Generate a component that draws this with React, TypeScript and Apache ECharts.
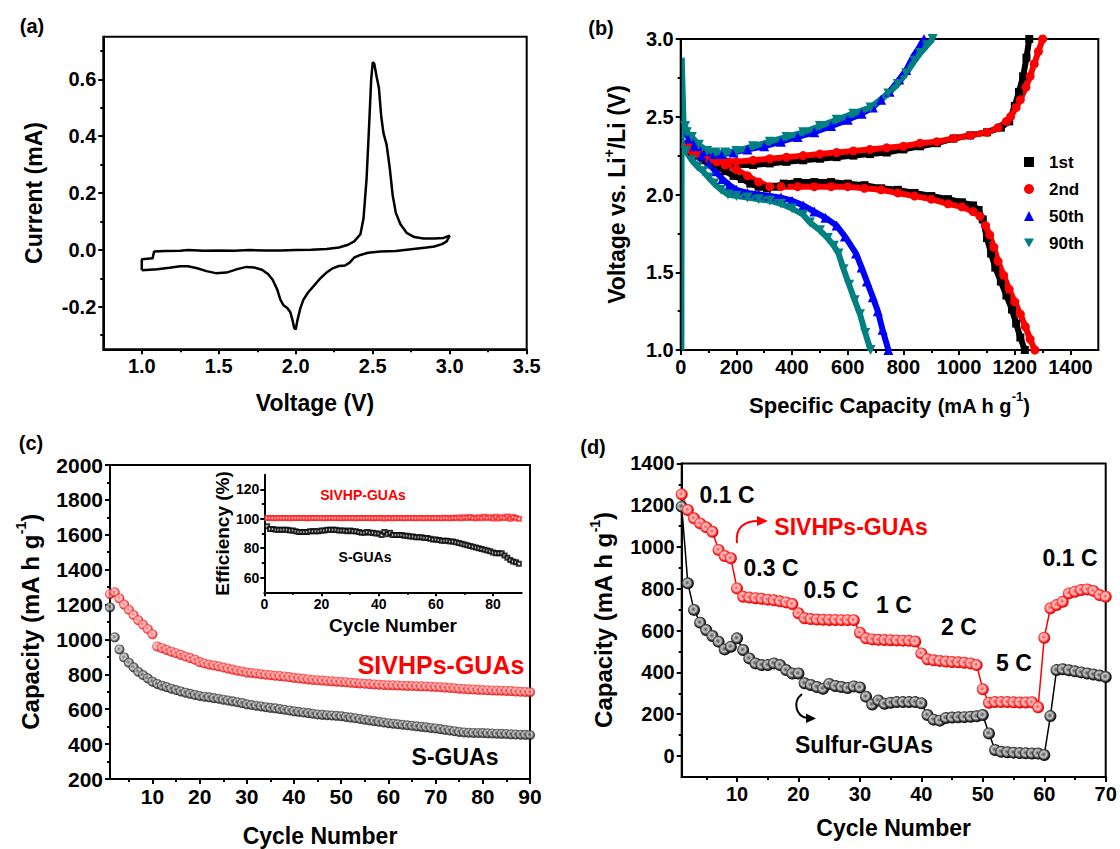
import React, { useEffect, useRef } from "react";
import * as echarts from "echarts";

const FONT = '"Liberation Sans", Arial, Helvetica, sans-serif';

// ---------- Panel (a): cyclic voltammetry ----------
const cvVoltage = [
  1.0, 1.0, 1.07, 1.08, 1.15, 1.25, 1.3, 1.4, 1.5, 1.6, 1.7, 1.8, 1.9, 2.0, 2.1, 2.2, 2.28, 2.34, 2.38, 2.42, 2.44, 2.46,
  2.475, 2.49, 2.5, 2.51, 2.525, 2.54, 2.555, 2.57, 2.59, 2.61, 2.63, 2.65, 2.68, 2.72, 2.77, 2.83, 2.9, 2.96, 3.0,
  2.98, 2.95, 2.9, 2.85, 2.75, 2.65, 2.55, 2.47, 2.42, 2.38, 2.35, 2.32, 2.28, 2.24, 2.2, 2.16, 2.12, 2.08, 2.05, 2.03,
  2.01, 2.0, 1.99, 1.98, 1.965, 1.945, 1.92, 1.9, 1.88, 1.85, 1.82, 1.78, 1.73, 1.68, 1.62, 1.55, 1.48, 1.42, 1.36, 1.3,
  1.25, 1.18, 1.1, 1.0,
];
const cvCurrent = [
  -0.072, -0.033, -0.03, -0.006, -0.004, -0.003, -0.001, -0.003, -0.002, -0.003, -0.001, -0.002, -0.002, -0.001, 0.0,
  0.003, 0.008, 0.018, 0.03, 0.055, 0.11, 0.25, 0.42, 0.6, 0.66, 0.655, 0.61, 0.57, 0.47, 0.41, 0.37, 0.29, 0.19, 0.13,
  0.09, 0.06, 0.045, 0.04, 0.04, 0.042, 0.05,
  0.03, 0.02, 0.012, 0.008, 0.002, -0.004, -0.006, -0.01, -0.018, -0.027, -0.045, -0.055, -0.057, -0.065, -0.08, -0.1,
  -0.125, -0.15, -0.175, -0.205, -0.25, -0.28, -0.275, -0.25, -0.22, -0.205, -0.195, -0.175, -0.14, -0.105, -0.085,
  -0.07, -0.062, -0.06, -0.068, -0.08, -0.082, -0.075, -0.065, -0.058, -0.058, -0.063, -0.068, -0.072,
];

// ---------- Panel (b): charge / discharge profiles [capacity, voltage] ----------
const b1Discharge = [
  [18, 2.3], [40, 2.27], [60, 2.25], [80, 2.22], [100, 2.2], [130, 2.18], [160, 2.15], [190, 2.12], [220, 2.1],
  [250, 2.07], [280, 2.05], [310, 2.04], [340, 2.05], [370, 2.07], [420, 2.08], [480, 2.08], [540, 2.08], [600, 2.07],
  [660, 2.06], [720, 2.04], [780, 2.03], [840, 2.01], [900, 1.99], [960, 1.97], [1010, 1.95], [1050, 1.93],
  [1070, 1.9], [1085, 1.84], [1100, 1.72], [1115, 1.62], [1130, 1.53], [1150, 1.44], [1170, 1.35], [1190, 1.26],
  [1205, 1.17], [1220, 1.08], [1236, 1.0],
];
const b1Charge = [
  [25, 2.3], [50, 2.26], [80, 2.23], [110, 2.21], [150, 2.19], [200, 2.19], [260, 2.19], [320, 2.2], [380, 2.21],
  [440, 2.22], [500, 2.23], [560, 2.24], [620, 2.25], [680, 2.26], [740, 2.27], [800, 2.29], [860, 2.31], [920, 2.33],
  [980, 2.36], [1040, 2.38], [1100, 2.4], [1150, 2.43], [1180, 2.47], [1200, 2.57], [1215, 2.66], [1230, 2.76],
  [1242, 2.88], [1252, 3.0],
];
const b2Discharge = [
  [18, 2.32], [40, 2.28], [70, 2.25], [100, 2.23], [130, 2.21], [160, 2.19], [200, 2.16], [240, 2.12], [280, 2.08],
  [320, 2.05], [360, 2.05], [420, 2.05], [480, 2.05], [540, 2.05], [600, 2.05], [660, 2.04], [720, 2.03], [780, 2.01],
  [840, 1.99], [900, 1.97], [960, 1.94], [1010, 1.92], [1050, 1.89], [1075, 1.86], [1095, 1.8], [1110, 1.74],
  [1125, 1.66], [1140, 1.57], [1160, 1.48], [1180, 1.39], [1200, 1.31], [1220, 1.23], [1238, 1.15], [1255, 1.07],
  [1272, 1.0],
];
const b2Charge = [
  [25, 2.33], [50, 2.28], [80, 2.25], [110, 2.23], [150, 2.22], [200, 2.21], [260, 2.22], [320, 2.23], [380, 2.24],
  [440, 2.25], [500, 2.26], [560, 2.27], [620, 2.28], [680, 2.29], [740, 2.3], [800, 2.31], [860, 2.33], [920, 2.34],
  [980, 2.36], [1040, 2.38], [1100, 2.4], [1140, 2.43], [1170, 2.47], [1185, 2.5], [1205, 2.56], [1220, 2.61],
  [1240, 2.69], [1255, 2.76], [1270, 2.84], [1285, 2.92], [1300, 3.0],
];
const b50Discharge = [
  [18, 2.4], [30, 2.36], [50, 2.31], [75, 2.25], [100, 2.2], [125, 2.15], [150, 2.1], [175, 2.06], [200, 2.03],
  [240, 2.01], [280, 2.0], [320, 1.99], [360, 1.98], [400, 1.96], [440, 1.93], [480, 1.89], [520, 1.85], [560, 1.8],
  [590, 1.73], [630, 1.62], [650, 1.53], [669, 1.44], [690, 1.34], [708, 1.25], [725, 1.13], [746, 1.0],
];
const b50Charge = [
  [18, 2.4], [35, 2.37], [60, 2.32], [90, 2.28], [120, 2.26], [150, 2.26], [190, 2.27], [240, 2.29], [300, 2.31],
  [360, 2.34], [420, 2.37], [480, 2.4], [540, 2.44], [600, 2.48], [650, 2.52], [690, 2.56], [720, 2.61], [750, 2.66],
  [785, 2.74], [810, 2.8], [836, 2.89], [858, 2.95], [874, 3.0],
];
const b90Discharge = [
  [18, 2.28], [40, 2.22], [60, 2.18], [80, 2.15], [100, 2.11], [120, 2.07], [145, 2.03], [170, 2.0], [200, 1.99],
  [240, 1.98], [280, 1.97], [320, 1.96], [360, 1.94], [400, 1.91], [440, 1.87], [464, 1.82], [500, 1.77],
  [528, 1.72], [550, 1.67], [567, 1.62], [585, 1.52], [605, 1.42], [625, 1.32], [644, 1.23], [663, 1.11], [682, 1.0],
];
const b90Spike = [[8, 1.0], [9, 2.88], [16, 2.44]];
const b90Charge = [
  [16, 2.44], [22, 2.4], [40, 2.37], [65, 2.32], [95, 2.28], [125, 2.27], [160, 2.27],
  [200, 2.28], [260, 2.31], [320, 2.34], [380, 2.37], [440, 2.4], [500, 2.44], [560, 2.48], [620, 2.52], [682, 2.56],
  [746, 2.65], [780, 2.71], [810, 2.78], [840, 2.86], [861, 2.91], [885, 2.96], [905, 3.0],
];
const bLegendNames = ["1st", "2nd", "50th", "90th"];

// ---------- Panel (c): cycling at constant rate ----------
const cSivhp = [
  1260, 1270, 1235, 1200, 1170, 1140, 1110, 1085, 1060, 1030,
  960, 950, 940, 930, 921, 912, 902, 893, 884, 870,
  862, 856, 851, 846, 839, 833, 827, 821, 816, 810,
  808, 805, 801, 798, 795, 792, 790, 787, 784, 780,
  777, 774, 771, 768, 766, 764, 762, 760, 758, 756,
  754, 752, 750, 748, 746, 744, 742, 741, 739, 738,
  737, 736, 735, 734, 733, 732, 731, 730, 729, 728,
  726, 724, 722, 720, 718, 716, 714, 713, 711, 710,
  709, 708, 707, 706, 705, 704, 702, 700, 699, 698,
];
const cSgua = [
  1184, 1012, 943, 897, 867, 840, 815, 796, 777, 758,
  745, 735, 727, 718, 710, 702, 695, 688, 682, 676,
  672, 668, 664, 660, 655, 650, 645, 640, 635, 628,
  624, 620, 616, 612, 608, 605, 601, 597, 593, 588,
  585, 581, 578, 574, 570, 568, 566, 564, 562, 560,
  556, 552, 548, 544, 540, 536, 532, 528, 524, 520,
  517, 514, 511, 508, 505, 502, 499, 496, 493, 490,
  486, 482, 478, 474, 470, 467, 465, 464, 464, 463,
  462, 461, 460, 459, 458, 456, 455, 454, 453, 452,
];
// inset: coulombic efficiency (%)
const effSivhp = [
  100.5, 100.6, 100.5, 100.4, 100.5, 100.6, 100.5, 100.5, 100.4, 100.5,
  100.5, 100.6, 100.5, 100.5, 100.4, 100.5, 100.5, 100.6, 100.5, 100.5,
  100.4, 100.5, 100.6, 100.5, 100.5, 100.5, 100.4, 100.5, 100.6, 100.5,
  100.5, 100.4, 100.5, 100.5, 100.6, 100.5, 100.5, 100.4, 100.5, 100.5,
  100.6, 100.2, 100.5, 100.5, 100.3, 100.5, 100.6, 100.5, 100.4, 100.5,
  100.6, 100.5, 100.4, 100.6, 100.5, 100.4, 100.6, 100.5, 100.4, 100.6,
  100.5, 100.4, 100.7, 100.5, 100.4, 100.7, 100.5, 100.8, 100.4, 101.0,
  100.5, 101.2, 100.6, 100.4, 101.0, 100.3, 101.4, 100.6, 101.0, 100.2,
  101.4, 100.2, 101.0, 100.5, 101.5, 100.1, 101.2, 100.6, 100.0,
];
const effSgua = [
  95, 93, 93, 92.5, 92.5, 92.5, 92.5, 92.5, 92, 92,
  91.5, 91, 91, 91, 91, 91.5, 91.5, 91.5, 91.5, 92,
  92, 92.5, 92.5, 92.5, 92.5, 92, 92, 92, 91.5, 92,
  91.5, 91.5, 91, 90.5, 90.5, 91, 90.5, 90.5, 90, 90,
  89, 91, 89.5, 90.5, 89, 89, 89, 89, 88.5, 88.5,
  88, 88, 87.5, 87.5, 87.5, 87, 87, 86.5, 86, 86,
  85.5, 85, 85, 85, 84.5, 84.5, 84, 83.5, 83, 82.5,
  82, 81.5, 81, 80.5, 80, 79.5, 79, 78.5, 78, 77,
  76.5, 76.5, 76.5, 75, 73.5, 72, 71, 70.5, 69.5,
];

// ---------- Panel (d): rate capability ----------
const dSivhp = [
  1252, 1177, 1137, 1113, 1094, 1073, 986, 957, 946, 802,
  762, 758, 755, 752, 748, 745, 740, 735, 727, 683,
  659, 655, 653, 652, 651, 651, 650, 650, 650, 590,
  563, 558, 556, 555, 554, 553, 552, 551, 548, 491,
  463, 458, 455, 452, 450, 448, 446, 443, 435, 319,
  255, 258, 258, 258, 257, 256, 256, 257, 233, 566,
  707, 722, 738, 778, 786, 794, 797, 790, 770, 762,
];
const dSulfur = [
  1193, 826, 699, 638, 603, 574, 547, 510, 523, 563,
  507, 467, 443, 435, 435, 443, 435, 411, 395, 395,
  348, 340, 330, 322, 345, 335, 330, 325, 333, 328,
  284, 246, 266, 250, 255, 258, 258, 258, 258, 252,
  196, 174, 169, 182, 184, 185, 186, 188, 190, 196,
  108, 29, 20, 18, 16, 14, 13, 12, 12, 5,
  191, 411, 415, 410, 405, 400, 395, 390, 385, 378,
];

// ---------- tick values ----------
const aXTicks = [1.0, 1.5, 2.0, 2.5, 3.0, 3.5];
const aXMinor = [1.25, 1.75, 2.25, 2.75, 3.25];
const aYTicks = [-0.2, 0.0, 0.2, 0.4, 0.6];
const aYMinor = [-0.3, -0.1, 0.1, 0.3, 0.5, 0.7];
const bXTicks = [0, 200, 400, 600, 800, 1000, 1200, 1400];
const bXMinor = [100, 300, 500, 700, 900, 1100, 1300];
const bYTicks = [1.0, 1.5, 2.0, 2.5, 3.0];
const bYMinor = [1.25, 1.75, 2.25, 2.75];
const cXTicks = [10, 20, 30, 40, 50, 60, 70, 80, 90];
const cXMinor = [5, 15, 25, 35, 45, 55, 65, 75, 85];
const cYTicks = [200, 400, 600, 800, 1000, 1200, 1400, 1600, 1800, 2000];
const cYMinor = [300, 500, 700, 900, 1100, 1300, 1500, 1700, 1900];
const dXTicks = [10, 20, 30, 40, 50, 60, 70];
const dXMinor = [5, 15, 25, 35, 45, 55, 65];
const dYTicks = [0, 200, 400, 600, 800, 1000, 1200, 1400];
const dYMinor = [100, 300, 500, 700, 900, 1100, 1300];
const iXTicks = [0, 20, 40, 60, 80];
const iXMinor = [10, 30, 50, 70];
const iYTicks = [60, 80, 100, 120];
const iYMinor = [70, 90, 110];

const cycles = (n: number) => Array.from({ length: n }, (_, i) => i + 1);

function axes(o: any) {
  const pos = o.kind === "x" ? "bottom" : "left";
  const lw = o.lw ?? 2;
  const main: any = {
    type: "value",
    gridIndex: o.grid,
    min: o.min,
    max: o.max,
    position: pos,
    axisLine: { show: true, onZero: false, lineStyle: { color: "#000", width: lw } },
    axisTick: { show: true, inside: false, length: o.tickLen ?? 5, lineStyle: { color: "#000", width: lw }, customValues: o.ticks },
    axisLabel: {
      show: true,
      customValues: o.ticks,
      margin: o.margin ?? 7,
      color: "#000",
      fontFamily: FONT,
      fontWeight: "bold",
      fontSize: o.labelSize,
      formatter: (v: number) => (o.digits != null ? Number(v).toFixed(o.digits) : String(Math.round(v))),
    },
    splitLine: { show: false },
    minorTick: { show: false },
    name: o.name,
    nameLocation: "middle",
    nameGap: o.nameGap,
    nameTextStyle: { color: "#000", fontFamily: FONT, fontWeight: "bold", fontSize: o.nameSize ?? 23, rich: o.rich },
  };
  const minor: any = {
    type: "value",
    gridIndex: o.grid,
    min: o.min,
    max: o.max,
    position: pos,
    axisLine: { show: false, onZero: false },
    axisTick: { show: true, inside: false, length: o.minorLen ?? 3, lineStyle: { color: "#000", width: lw }, customValues: o.minor },
    axisLabel: { show: false },
    splitLine: { show: false },
  };
  return [main, minor];
}

function sup(size: number, supSize: number) {
  return {
    t: { fontFamily: FONT, fontWeight: "bold", fontSize: size, color: "#000", lineHeight: size + 4, verticalAlign: "bottom" },
    s: { fontFamily: FONT, fontWeight: "bold", fontSize: size - 2, color: "#000", lineHeight: size + 4, verticalAlign: "bottom" },
    u: { fontFamily: FONT, fontWeight: "bold", fontSize: supSize, color: "#000", lineHeight: supSize + 2, verticalAlign: "top" },
  };
}

function ringBall(light: string, mid: string, main: string, dark: string) {
  return {
    type: "radial",
    x: 0.45,
    y: 0.45,
    r: 0.55,
    colorStops: [
      { offset: 0, color: light },
      { offset: 0.45, color: mid },
      { offset: 0.78, color: main },
      { offset: 1, color: dark },
    ],
  };
}

function txt(x: number, y: number, text: string, size: number, color = "#000") {
  return {
    type: "text",
    x,
    y,
    z: 100,
    style: {
      text,
      fill: color,
      font: `bold ${size}px ${FONT}`,
      textAlign: "center",
      textVerticalAlign: "middle",
      align: "center",
      verticalAlign: "middle",
    },
  };
}

export default function App() {
  const ref = useRef<HTMLDivElement>(null);
  useEffect(() => {
    if (!ref.current) return;
    const chart = echarts.init(ref.current, null, { renderer: "svg" });

    const grids = [
      { left: 103.3, top: 36.7, width: 423.4, height: 312.6 },
      { left: 680.7, top: 39, width: 417.6, height: 311 },
      { left: 110, top: 465, width: 420, height: 314 },
      { left: 681.7, top: 463.4, width: 424, height: 313.5 },
      { left: 264.3, top: 474.7, width: 257.4, height: 117.6 },
    ].map((g, i) => ({
      ...g,
      show: i < 4,
      borderColor: "#000",
      borderWidth: 2,
      backgroundColor: "transparent",
      containLabel: false,
      outerBoundsMode: "none",
    }));

    const xAxes = [
      ...axes({ kind: "x", grid: 0, min: 0.75, max: 3.5, ticks: aXTicks, minor: aXMinor, digits: 1, labelSize: 20, name: "Voltage (V)", nameGap: 42 }),
      ...axes({ kind: "x", grid: 1, min: 0, max: 1500, ticks: bXTicks, minor: bXMinor, labelSize: 20, name: "{t|Specific Capacity }{s|(mA h g}{u|-1}{s|)}", nameGap: 40, rich: sup(22, 13) }),
      ...axes({ kind: "x", grid: 2, min: 1, max: 90, ticks: cXTicks, minor: cXMinor, labelSize: 21, name: "Cycle Number", nameGap: 45 }),
      ...axes({ kind: "x", grid: 3, min: 1, max: 70, ticks: dXTicks, minor: dXMinor, labelSize: 20, name: "Cycle Number", nameGap: 40 }),
      ...axes({ kind: "x", grid: 4, min: 0, max: 90, ticks: iXTicks, minor: iXMinor, labelSize: 14, name: "Cycle Number", nameGap: 24, nameSize: 19, tickLen: 4, minorLen: 2.5, margin: 5 }),
    ];
    const yAxes = [
      ...axes({ kind: "y", grid: 0, min: -0.35, max: 0.75, ticks: aYTicks, minor: aYMinor, digits: 1, labelSize: 20, name: "Current (mA)", nameGap: 58 }),
      ...axes({ kind: "y", grid: 1, min: 1.0, max: 3.0, ticks: bYTicks, minor: bYMinor, digits: 1, labelSize: 20, name: "{t|Voltage vs. Li}{u|+}{t|/Li (V)}", nameGap: 52, rich: sup(23, 14) }),
      ...axes({ kind: "y", grid: 2, min: 200, max: 2000, ticks: cYTicks, minor: cYMinor, labelSize: 21, name: "{t|Capacity (mA h g}{u|-1}{t|)}", nameGap: 68, rich: sup(24, 14) }),
      ...axes({ kind: "y", grid: 3, min: -100, max: 1400, ticks: dYTicks, minor: dYMinor, labelSize: 20, name: "{t|Capacity (mA h g}{u|-1}{t|)}", nameGap: 66, rich: sup(24, 14) }),
      ...axes({ kind: "y", grid: 4, min: 50, max: 130, ticks: iYTicks, minor: iYMinor, labelSize: 14, name: "Efficiency (%)", nameGap: 32, nameSize: 19, tickLen: 4, minorLen: 2.5, margin: 5 }),
    ];

    const invTri = "path://M0,0L10,0L5,9Z";
    const bStyle = [
      { name: "1st", color: "#000000", symbol: "rect", size: 8, data: [b1Discharge, b1Charge] },
      { name: "2nd", color: "#ff0000", symbol: "circle", size: 9, data: [b2Discharge, b2Charge] },
      { name: "50th", color: "#0000ff", symbol: "triangle", size: 10, data: [b50Discharge, b50Charge] },
      { name: "90th", color: "#008080", symbol: invTri, size: 10, data: [b90Discharge, b90Charge] },
    ];
    const bSeries: any[] = [];
    bStyle.forEach((s) => {
      s.data.forEach((d) => {
        bSeries.push({
          type: "line",
          name: s.name,
          xAxisIndex: 2,
          yAxisIndex: 2,
          data: d,
          symbol: s.symbol,
          symbolSize: s.size,
          showSymbol: true,
          lineStyle: { color: s.color, width: 6 },
          itemStyle: { color: s.color },
          z: 3,
        });
      });
    });
    bSeries.push({
      type: "line",
      name: "90th",
      xAxisIndex: 2,
      yAxisIndex: 2,
      data: b90Spike,
      symbol: "none",
      lineStyle: { color: "#008080", width: 3 },
      itemStyle: { color: "#008080" },
      z: 4,
    });

    const redBall = ringBall("#ff5050", "#ffc8c8", "#ff2020", "#c00000");
    const blackBall = ringBall("#505050", "#c8c8c8", "#303030", "#000000");
    const cx = cycles(90);
    const dx = cycles(70);
    const ix = cycles(89);

    const series: any[] = [
      {
        type: "line",
        xAxisIndex: 0,
        yAxisIndex: 0,
        data: cvVoltage.map((v, i) => [v, cvCurrent[i]]),
        symbol: "none",
        lineStyle: { color: "#000", width: 2.5 },
      },
      ...bSeries,
      {
        type: "scatter",
        xAxisIndex: 4,
        yAxisIndex: 4,
        data: cx.map((c, i) => [c, cSgua[i]]),
        symbol: "circle",
        symbolSize: 10,
        itemStyle: { color: blackBall },
      },
      {
        type: "scatter",
        xAxisIndex: 4,
        yAxisIndex: 4,
        data: cx.map((c, i) => [c, cSivhp[i]]),
        symbol: "circle",
        symbolSize: 10,
        itemStyle: { color: redBall },
      },
      {
        type: "scatter",
        xAxisIndex: 8,
        yAxisIndex: 8,
        data: ix.map((c, i) => [c, effSivhp[i]]),
        symbol: "emptyRect",
        symbolSize: 4,
        itemStyle: { color: "#ff2020", borderWidth: 1 },
      },
      {
        type: "scatter",
        xAxisIndex: 8,
        yAxisIndex: 8,
        data: ix.map((c, i) => [c, effSgua[i]]),
        symbol: "emptyRect",
        symbolSize: 4,
        itemStyle: { color: "#000", borderWidth: 1 },
      },
      {
        type: "line",
        xAxisIndex: 6,
        yAxisIndex: 6,
        data: dx.map((c, i) => [c, dSulfur[i]]),
        symbol: "circle",
        symbolSize: 12,
        lineStyle: { color: "#000", width: 1.5 },
        itemStyle: { color: blackBall },
      },
      {
        type: "line",
        xAxisIndex: 6,
        yAxisIndex: 6,
        data: dx.map((c, i) => [c, dSivhp[i]]),
        symbol: "circle",
        symbolSize: 12,
        lineStyle: { color: "#ff0000", width: 1.5 },
        itemStyle: { color: redBall },
      },
    ];

    const graphic: any[] = [
      txt(32, 26, "(a)", 20),
      txt(601, 28, "(b)", 20),
      txt(31, 443, "(c)", 20),
      txt(593, 447, "(d)", 20),
      txt(441, 665, "SIVHPs-GUAs", 25, "#ff0000"),
      txt(455, 757, "S-GUAs", 23),
      txt(363, 495, "SIVHP-GUAs", 14, "#ff0000"),
      txt(365, 557, "S-GUAs", 14),
      txt(727, 495, "0.1 C", 23),
      txt(851, 527, "SIVHPs-GUAs", 23, "#ff0000"),
      txt(771, 568, "0.3 C", 23),
      txt(831, 590, "0.5 C", 23),
      txt(894, 605, "1 C", 23),
      txt(959, 627, "2 C", 23),
      txt(1014, 663, "5 C", 23),
      txt(1070, 558, "0.1 C", 23),
      txt(864, 745, "Sulfur-GUAs", 23),
      {
        type: "bezierCurve",
        z: 100,
        shape: { x1: 737, y1: 543, cpx1: 735, cpy1: 527, cpx2: 745, cpy2: 521, x2: 758, y2: 521 },
        style: { stroke: "#ff0000", lineWidth: 2, fill: null },
      },
      { type: "polygon", z: 100, shape: { points: [[757, 516], [768, 521], [757, 526]] }, style: { fill: "#ff0000" } },
      {
        type: "bezierCurve",
        z: 100,
        shape: { x1: 802, y1: 694, cpx1: 792, cpy1: 702, cpx2: 796, cpy2: 716, x2: 807, y2: 718 },
        style: { stroke: "#000", lineWidth: 2, fill: null },
      },
      { type: "polygon", z: 100, shape: { points: [[806, 713.5], [816, 718.5], [806, 723]] }, style: { fill: "#000" } },
    ];

    chart.setOption({
      animation: false,
      backgroundColor: "#fff",
      grid: grids,
      xAxis: xAxes,
      yAxis: yAxes,
      legend: {
        show: true,
        orient: "vertical",
        left: 1019,
        top: 148,
        itemWidth: 10,
        itemHeight: 10,
        itemGap: 9,
        selectedMode: false,
        data: [
          { name: bLegendNames[0], icon: "rect" },
          { name: bLegendNames[1], icon: "circle" },
          { name: bLegendNames[2], icon: "triangle" },
          { name: bLegendNames[3], icon: invTri },
        ],
        textStyle: { color: "#000", fontFamily: FONT, fontWeight: "bold", fontSize: 17, lineHeight: 18, padding: [0, 0, 0, 10] },
      },
      series,
      graphic,
    });
    return () => chart.dispose();
  }, []);
  return (
    <div
      ref={ref}
      style={{ position: "fixed", left: 0, top: 0, width: 1120, height: 849, background: "#fff" }}
    />
  );
}
